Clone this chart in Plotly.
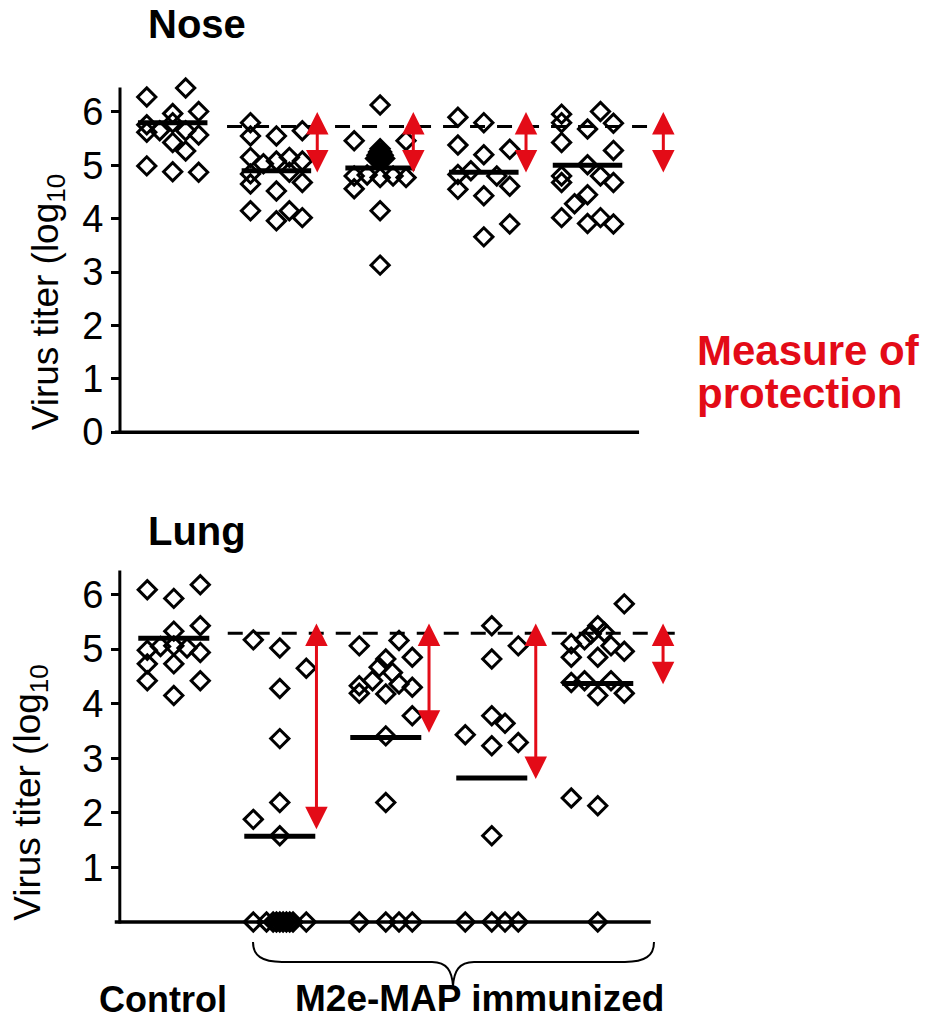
import plotly.graph_objects as go

W, H = 937, 1019          # reference frame (pixels)
FIG_H = 1033              # figure height compensating the capture's vertical squeeze

# ---------------- data ----------------
group_index = [1, 2, 3, 4, 5]
col_step = 0.125

# Nose: column offsets (in steps) and log10 titers per group
nose_cols = [
    [-2, 1, 0, 2, -2, -2, -1, 0, 1, 2, 0, 1, -2, 0, 2],
    [-2, 2, -2, 0, -2, -1, 0, 1, 2, -2, -2, 1, 2, 0, -2, 1, 2, 0],
    [0, -2, 2, 0, -0.12, 0.12, -0.24, 0, 0.24, -0.35, -0.12, 0.12, 0.35,
     -2, -1, 0, 1, 2, -2, 0, 0],
    [-2, 0, -2, 2, 0, -2, -1, 1, 2, -2, 0, 2, 0],
    [-2, 1, -2, 2, 0, -2, 2, 0, -2, -2, 1, 2, 0, -1, -2, 0, 1, 2],
]
nose_vals = [
    [6.28, 6.45, 5.97, 6.01, 5.76, 5.62, 5.65, 5.80, 5.65, 5.57, 5.43, 5.27, 4.99, 4.88, 4.87],
    [5.80, 5.65, 5.55, 5.55, 5.15, 5.03, 5.08, 5.15, 5.08, 4.84, 4.65, 4.87, 4.68, 4.52, 4.15, 4.15, 4.02, 3.96],
    [6.13, 5.46, 5.46, 5.31, 5.25, 5.25, 5.19, 5.19, 5.19, 5.13, 5.13, 5.13, 5.13,
     4.80, 4.82, 4.77, 4.80, 4.77, 4.56, 4.15, 3.13],
    [5.90, 5.80, 5.38, 5.30, 5.20, 4.83, 4.90, 4.80, 4.61, 4.55, 4.43, 3.90, 3.66],
    [5.96, 6.01, 5.80, 5.79, 5.68, 5.43, 5.28, 5.01, 4.80, 4.68, 4.80, 4.68, 4.45, 4.28, 4.02, 3.91, 4.02, 3.90],
]
nose_means = [5.80, 4.90, 4.95, 4.87, 5.00]
nose_control_level = 5.73
nose_arrow_x = [2.394, 3.320, 4.407, 5.731]
nose_arrow_top = [6.0, 6.0, 6.0, 6.0]
nose_arrow_bottom = [4.84, 4.84, 4.84, 4.84]

# Lung
lung_cols = [
    [-2, 0, 2, 0, 2, -2, -1, 0, 1, 2, -2, 0, -2, 2, 0],
    [-2, 0, 2, 0, 0, 0, -2, 0, -2, -1, -0.5, -0.25, 0, 0.25, 0.5, 0.75, 1, 2],
    [-2, 1, 2, 0, -0.5, 0.5, -1, -2, -2, 0, 1, 2, 2, 0, 0, -2, 0, 1, 2],
    [0, 2, 0, 0, 1, -2, 0, 2, 0, -2, 0, 1, 2],
    [2, 0, 0.5, -0.5, -1, 1, -2, 2, -2, 0, -2, -1, 1, 0, 2, -2, 0, 0],
]
lung_vals = [
    [6.09, 5.93, 6.18, 5.33, 5.43, 4.98, 5.05, 5.06, 5.02, 4.94, 4.73, 4.73, 4.42, 4.42, 4.15],
    [5.17, 5.02, 4.65, 4.28, 3.36, 2.19, 1.88, 1.58, 0, 0, 0, 0, 0, 0, 0, 0, 0, 0],
    [5.06, 5.16, 4.85, 4.82, 4.67, 4.57, 4.42, 4.33, 4.19, 4.18, 4.36, 4.30, 3.78, 3.41, 2.19, 0, 0, 0, 0],
    [5.43, 5.06, 4.82, 3.78, 3.64, 3.43, 3.23, 3.29, 1.58, 0, 0, 0, 0],
    [5.83, 5.43, 5.31, 5.28, 5.17, 5.06, 5.10, 4.96, 4.85, 4.85, 4.39, 4.42, 4.42, 4.15, 4.19, 2.27, 2.13, 0],
]
lung_means = [5.20, 1.57, 3.38, 2.64, 4.37]
lung_control_level = 5.29
lung_arrow_x = [2.346, 3.408, 4.415, 5.616]
lung_arrow_top = [5.47, 5.47, 5.47, 5.47]
lung_arrow_bottom = [1.67, 3.44, 2.59, 4.33]

nose_ticks = [0, 1, 2, 3, 4, 5, 6]
lung_ticks = [1, 2, 3, 4, 5, 6]

RED = "#e30b17"
TICK_FONT = dict(family="Liberation Sans, Arial, sans-serif", size=38, color="black")
BOLD = "Liberation Sans, Arial, sans-serif"


def px_x(p):
    return p / W


def px_y(p):
    return 1 - p / H


fig = go.Figure()


def add_panel(xa, ya, cols, vals, means, level, level_span, axis_span, yline_x, ytop,
              ax_x, ax_top, ax_bot):
    # axis lines
    fig.add_trace(go.Scatter(x=list(axis_span), y=[0, 0], mode="lines",
                             line=dict(color="black", width=3.5), xaxis=xa, yaxis=ya,
                             hoverinfo="skip", showlegend=False))
    fig.add_trace(go.Scatter(x=[yline_x, yline_x], y=[-0.03, ytop], mode="lines",
                             line=dict(color="black", width=3), xaxis=xa, yaxis=ya,
                             hoverinfo="skip", showlegend=False))
    # points
    for g, c, v in zip(group_index, cols, vals):
        fig.add_trace(go.Scatter(
            x=[g + k * col_step for k in c], y=v, mode="markers",
            marker=dict(symbol="diamond-open", size=14, color="black",
                        line=dict(width=3, color="black")),
            cliponaxis=False, xaxis=xa, yaxis=ya, showlegend=False))
    # means
    mx, my = [], []
    for g, m in zip(group_index, means):
        mx += [g - 0.335, g + 0.335, None]
        my += [m, m, None]
    fig.add_trace(go.Scatter(x=mx, y=my, mode="lines",
                             line=dict(color="black", width=5),
                             xaxis=xa, yaxis=ya, showlegend=False))
    # control level dashed line
    fig.add_trace(go.Scatter(x=list(level_span), y=[level, level], mode="lines",
                             line=dict(color="black", width=3, dash="15px,12px"),
                             xaxis=xa, yaxis=ya, showlegend=False))
    # arrows
    for x, t, b in zip(ax_x, ax_top, ax_bot):
        fig.add_annotation(x=x, y=t, ax=x, ay=b, xref=xa, yref=ya, axref=xa, ayref=ya,
                           text="", showarrow=True, arrowside="end+start",
                           arrowhead=2, startarrowhead=2, arrowsize=1.5, startarrowsize=1.5,
                           arrowwidth=3, arrowcolor=RED, standoff=0, startstandoff=0)


add_panel("x", "y", nose_cols, nose_vals, nose_means, nose_control_level,
          (1.524, 5.777), (0.444, 5.497), 0.4918, 6.46,
          nose_arrow_x, nose_arrow_top, nose_arrow_bottom)
add_panel("x2", "y2", lung_cols, lung_vals, lung_means, lung_control_level,
          (1.509, 5.83), (0.443, 5.50), 0.4906, 6.44,
          lung_arrow_x, lung_arrow_top, lung_arrow_bottom)

xdom = [px_x(109.2), px_x(704.5)]
common_y = dict(showgrid=False, zeroline=False, showline=False, ticks="outside",
                ticklen=9, tickwidth=3, tickcolor="black", tickfont=TICK_FONT,
                anchor="free", position=px_x(120), range=[-0.15, 6.6])
fig.update_layout(
    width=W, height=FIG_H, autosize=False,
    margin=dict(l=0, r=0, t=0, b=0),
    paper_bgcolor="white", plot_bgcolor="rgba(0,0,0,0)",
    showlegend=False,
    xaxis=dict(domain=xdom, range=[0.3877, 6.128], visible=False),
    xaxis2=dict(domain=xdom, range=[0.3906, 6.007], visible=False),
    yaxis=dict(domain=[px_y(439.7), px_y(79.9)], tickvals=nose_ticks, **common_y),
    yaxis2=dict(domain=[px_y(929.2), px_y(561.3)], tickvals=lung_ticks, **common_y),
)


def text(t, x, y, size, color="black", bold=True, xanchor="left", yanchor="middle",
         angle=0, family=BOLD):
    s = f"<b>{t}</b>" if bold else t
    fig.add_annotation(text=s, x=px_x(x), y=px_y(y), xref="paper", yref="paper",
                       xanchor=xanchor, yanchor=yanchor, showarrow=False,
                       textangle=angle, font=dict(family=family, size=size, color=color))


text("Nose", 146, 0, 40, yanchor="top")
text("Lung", 146, 530, 40)
text("Measure of", 695, 350, 42, color=RED)
text("protection", 695, 393, 42, color=RED)
text("Control", 97, 999, 36)
text("M2e-MAP immunized", 293, 998, 37)
text("Virus titer (log<sub>10</sub>", 48, 302, 37, bold=False, xanchor="center", angle=-90,
     family="Liberation Sans, Arial, sans-serif")
text("Virus titer (log<sub>10</sub>", 30, 792, 37, bold=False, xanchor="center", angle=-90,
     family="Liberation Sans, Arial, sans-serif")

# brace under immunized groups
pts = [(253, 941), (253, 955), (262, 961), (282, 961), (432, 961), (447, 961),
       (452, 970), (453, 985), (454, 970), (459, 961), (474, 961), (625, 961),
       (645, 961), (654, 955), (654, 941)]
P = [(px_x(a), px_y(b)) for a, b in pts]
path = (f"M{P[0][0]},{P[0][1]} C{P[1][0]},{P[1][1]} {P[2][0]},{P[2][1]} {P[3][0]},{P[3][1]} "
        f"L{P[4][0]},{P[4][1]} C{P[5][0]},{P[5][1]} {P[6][0]},{P[6][1]} {P[7][0]},{P[7][1]} "
        f"C{P[8][0]},{P[8][1]} {P[9][0]},{P[9][1]} {P[10][0]},{P[10][1]} "
        f"L{P[11][0]},{P[11][1]} C{P[12][0]},{P[12][1]} {P[13][0]},{P[13][1]} {P[14][0]},{P[14][1]}")
fig.add_shape(type="path", path=path, xref="paper", yref="paper",
              line=dict(color="black", width=2))

fig.write_html("out.html", config={"displayModeBar": False},
               post_script="document.body.style.margin='0';document.body.style.overflow='hidden';")
